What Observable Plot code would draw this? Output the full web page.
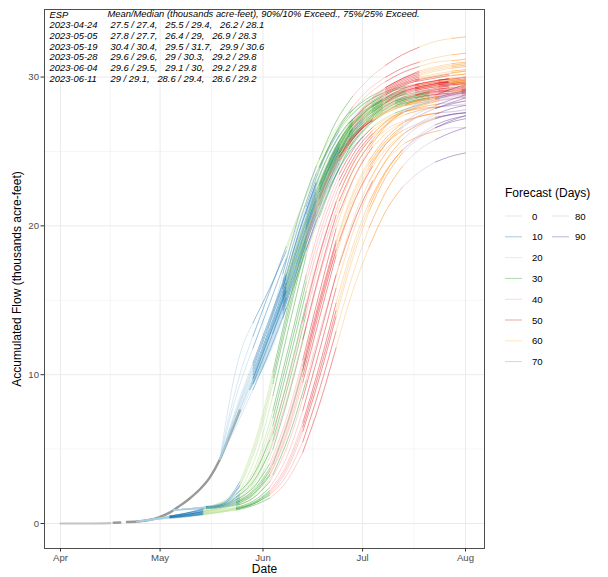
<!DOCTYPE html>
<html><head><meta charset="utf-8">
<script src="https://cdn.jsdelivr.net/npm/d3@7"></script>
<script src="https://cdn.jsdelivr.net/npm/@observablehq/plot@0.6"></script>
<style>
body{margin:0;background:#fff;font-family:"Liberation Sans",Arial,Helvetica,sans-serif;}
#wrap{position:relative;width:608px;height:577px;overflow:hidden;}
#legend{position:absolute;left:0;top:0;pointer-events:none;}
</style></head><body><div id="wrap"></div>
<script>
// ---- text ----
const espLabels = ["ESP","2023-04-24","2023-05-05","2023-05-19","2023-05-28","2023-06-04","2023-06-11"];
const espHeader = "Mean/Median (thousands acre-feet), 90%/10% Exceed., 75%/25% Exceed.";
const espStats = [
  "27.5 / 27.4,   25.5 / 29.4,   26.2 / 28.1",
  "27.8 / 27.7,   26.4 / 29,   26.9 / 28.3",
  "30.4 / 30.4,   29.5 / 31.7,   29.9 / 30.6",
  "29.6 / 29.6,   29 / 30.3,   29.2 / 29.8",
  "29.6 / 29.5,   29.1 / 30,   29.2 / 29.8",
  "29 / 29.1,   28.6 / 29.4,   28.6 / 29.2"
];
const xTickDates = ["2023-04-01","2023-05-01","2023-06-01","2023-07-01","2023-08-01"];
const xMinorDates = ["2023-04-16","2023-05-16T12:00Z","2023-06-16","2023-07-16T12:00Z"];
const yTicks = [0,10,20,30];
const yMinor = [5,15,25];
const forecastDays = [0,10,20,30,40,50,60,70,80,90];
const palette = ["#a6cee3","#1f78b4","#b2df8a","#33a02c","#fb9a99","#e31a1c","#fdbf6f","#ff7f00","#cab2d6","#6a3d9a"];

// ---- observed accumulated flow ----
const obsDates = ["2023-04-01","2023-04-05","2023-04-10","2023-04-16","2023-04-17","2023-04-19","2023-04-21","2023-04-25","2023-04-28","2023-05-01","2023-05-04","2023-05-07","2023-05-10","2023-05-13","2023-05-16","2023-05-19","2023-05-22","2023-05-25"];
const obsFlow  = [0,0,0,0.02,0.05,0.07,0.1,0.15,0.25,0.45,0.75,1.2,1.7,2.3,3.1,4.3,5.9,7.6];
const obsPart  = [1,1,1,1,2,2,3,3,3,3,3,3,3,3,3,3,3,3];

// ---- ESP forecast traces: lead days since issue, accumulated flow per member ----
const issueDates = ["2023-04-24","2023-05-05","2023-05-19","2023-05-28","2023-06-04","2023-06-11"];
const leadsA = [0,5,10,15,20,25,30,35,40,45,50,55,60,65,70,75,80,85,90,95,99];
const traceA = [
  [0.13,0.3,0.5,0.7,0.9,1.2,1.6,2.4,4.0,7.0,11.0,15.5,19.8,23.0,25.2,26.7,27.6,28.3,28.8,29.2,29.5],
  [0.13,0.3,0.45,0.6,0.8,1.0,1.3,1.9,3.2,5.8,9.5,13.8,18.0,21.4,23.8,25.5,26.6,27.4,27.9,28.3,28.6],
  [0.13,0.25,0.4,0.55,0.7,0.9,1.1,1.5,2.4,4.4,7.6,11.6,15.8,19.5,22.4,24.4,25.8,26.7,27.2,27.5,27.6],
  [0.13,0.3,0.5,0.7,1.0,1.4,2.0,3.2,5.6,9.2,13.6,18.0,21.6,24.2,25.9,27.0,27.7,28.2,28.6,28.9,29.1],
  [0.13,0.25,0.4,0.5,0.65,0.8,1.0,1.3,2.0,3.5,6.2,9.8,13.9,17.8,21.0,23.3,24.9,25.9,26.6,27.1,27.4],
  [0.13,0.3,0.45,0.6,0.75,0.95,1.2,1.7,2.8,5.0,8.4,12.5,16.7,20.3,23.0,24.9,26.1,26.9,27.5,27.9,28.1],
  [0.13,0.25,0.35,0.45,0.6,0.75,0.9,1.2,1.7,2.8,4.8,8.0,11.8,15.6,18.6,21.0,22.6,23.6,24.3,24.7,24.9],
  [0.13,0.3,0.5,0.65,0.85,1.1,1.5,2.2,3.7,6.6,10.6,15.0,19.0,22.2,24.4,25.9,26.9,27.6,28.1,28.5,28.8],
  [0.13,0.25,0.4,0.5,0.6,0.75,0.95,1.3,1.9,3.2,5.5,9.0,12.9,16.7,19.9,22.3,24.0,25.1,25.8,26.3,26.6],
  [0.13,0.3,0.45,0.6,0.8,1.0,1.4,2.0,3.3,6.0,9.9,14.3,18.4,21.7,24.0,25.5,26.4,26.9,27.3,27.5,27.6],
  [0.13,0.3,0.45,0.6,0.8,1.05,1.4,2.1,3.5,6.3,10.3,14.7,18.8,22.0,24.2,25.7,26.7,27.4,27.9,28.2,28.4],
  [0.13,0.25,0.4,0.55,0.7,0.85,1.05,1.4,2.2,3.9,6.8,10.6,14.8,18.6,21.6,23.7,25.1,26.0,26.6,27.0,27.2],
  [0.13,0.3,0.5,0.7,0.95,1.3,1.8,2.8,4.8,8.2,12.4,16.8,20.7,23.6,25.5,26.8,27.6,28.1,28.5,28.8,29.0],
  [0.13,0.25,0.4,0.5,0.65,0.8,1.0,1.35,2.1,3.7,6.5,10.2,14.3,18.2,21.3,23.6,25.1,26.1,26.8,27.2,27.4]
];
const leadsB = [0,5,10,15,20,25,30,35,40,45,50,55,60,65,70,75,80,85,88];
const traceB = [
  [0.9,1.0,1.1,1.3,2.2,4.6,8.6,13.4,18.0,21.8,24.4,26.1,27.1,27.8,28.2,28.5,28.7,28.9,29.0],
  [0.9,1.0,1.1,1.2,1.8,3.4,6.6,11.0,15.6,19.6,22.7,24.8,26.2,27.1,27.7,28.1,28.4,28.6,28.7],
  [0.9,1.0,1.05,1.15,1.5,2.6,5.0,8.8,13.2,17.4,20.9,23.5,25.3,26.4,27.0,27.4,27.6,27.7,27.8],
  [0.9,1.0,1.15,1.4,2.8,5.8,10.2,15.0,19.3,22.6,24.9,26.3,27.2,27.8,28.2,28.5,28.7,28.8,28.9],
  [0.9,0.95,1.0,1.1,1.4,2.2,4.0,7.2,11.2,15.4,19.0,21.9,24.0,25.4,26.3,26.9,27.3,27.5,27.6],
  [0.9,1.0,1.1,1.25,2.0,4.0,7.6,12.1,16.7,20.6,23.5,25.4,26.6,27.3,27.7,27.9,28.0,28.1,28.1],
  [0.9,0.95,1.0,1.1,1.3,1.9,3.3,6.0,9.6,13.6,17.4,20.6,23.0,24.6,25.6,26.1,26.4,26.6,26.6],
  [0.9,1.0,1.1,1.3,2.5,5.2,9.4,14.2,18.7,22.2,24.6,26.1,27.1,27.7,28.1,28.4,28.6,28.7,28.8],
  [0.9,0.95,1.05,1.15,1.6,2.9,5.6,9.6,14.1,18.3,21.7,24.1,25.7,26.6,27.1,27.4,27.6,27.7,27.8],
  [0.9,1.0,1.1,1.25,1.9,3.7,7.1,11.6,16.2,20.1,23.1,25.1,26.4,27.2,27.7,28.0,28.2,28.3,28.4],
  [0.9,0.95,1.05,1.2,1.7,3.1,6.0,10.2,14.8,18.9,22.2,24.5,26.0,26.9,27.5,27.8,28.0,28.1,28.2],
  [0.9,1.0,1.1,1.35,2.6,5.5,9.8,14.6,19.0,22.4,24.7,26.2,27.1,27.7,28.1,28.3,28.5,28.6,28.7]
];
const leadsC = [0,5,10,15,20,25,30,35,40,45,50,55,60,65,70,74];
const traceC = [
  [4.3,10.5,13.5,15.8,18.3,21.5,24.5,27.0,28.7,29.9,30.8,31.5,32.0,32.4,32.6,32.7],
  [4.3,8.6,11.8,14.8,17.8,21.0,23.9,26.3,28.0,29.2,30.0,30.6,31.0,31.3,31.5,31.6],
  [4.3,7.8,10.8,13.8,16.8,19.9,22.8,25.3,27.1,28.4,29.3,29.9,30.3,30.6,30.8,30.9],
  [4.3,7.2,10.0,12.9,15.9,19.0,22.0,24.6,26.6,28.0,29.0,29.6,30.0,30.2,30.4,30.5],
  [4.3,6.8,9.4,12.2,15.2,18.4,21.4,24.1,26.2,27.6,28.6,29.2,29.5,29.7,29.8,29.8],
  [4.3,7.5,10.4,13.4,16.5,19.6,22.5,25.0,26.9,28.3,29.2,29.8,30.2,30.5,30.7,30.8],
  [4.3,9.2,12.6,15.6,18.6,21.5,24.0,26.2,27.8,28.9,29.7,30.3,30.7,31.0,31.1,31.2],
  [4.3,6.6,9.0,11.6,14.5,17.6,20.6,23.4,25.6,27.2,28.3,29.0,29.3,29.5,29.6,29.6],
  [4.3,7.4,10.2,13.1,16.2,19.3,22.3,24.9,26.8,28.2,29.1,29.7,30.1,30.4,30.6,30.7],
  [4.3,7.0,9.7,12.6,15.6,18.8,21.8,24.4,26.5,27.9,28.9,29.5,29.9,30.1,30.3,30.4],
  [4.3,7.6,10.6,13.6,16.7,19.8,22.7,25.2,27.0,28.4,29.3,29.9,30.4,30.7,30.9,31.0],
  [4.3,7.1,9.8,12.7,15.7,18.9,21.9,24.5,26.5,27.9,28.8,29.4,29.8,30.0,30.1,30.2]
];
const leadsD = [0,5,10,15,20,25,30,35,40,45,50,55,60,65];
const traceD = [
  [9.0,12.6,16.8,20.8,24.0,26.2,27.6,28.5,29.1,29.5,29.8,30.0,30.2,30.4],
  [9.0,12.0,15.8,19.6,22.9,25.3,26.9,28.0,28.7,29.2,29.5,29.7,29.9,30.0],
  [9.0,11.6,15.0,18.6,21.9,24.5,26.3,27.5,28.3,28.8,29.2,29.5,29.7,29.8],
  [9.0,11.2,14.3,17.7,21.0,23.7,25.7,27.0,27.9,28.5,28.8,29.0,29.1,29.1],
  [9.0,11.9,15.5,19.2,22.5,25.0,26.7,27.8,28.5,29.0,29.3,29.5,29.6,29.7],
  [9.0,10.9,13.8,17.1,20.4,23.1,25.2,26.6,27.6,28.2,28.6,28.8,28.9,29.0],
  [9.0,12.3,16.3,20.2,23.5,25.8,27.3,28.3,28.9,29.4,29.7,29.9,30.1,30.2],
  [9.0,11.4,14.6,18.1,21.4,24.1,26.0,27.3,28.1,28.7,29.1,29.3,29.4,29.5],
  [9.0,11.7,15.2,18.9,22.2,24.8,26.5,27.7,28.4,28.9,29.3,29.5,29.7,29.8],
  [9.0,11.5,14.8,18.4,21.7,24.3,26.2,27.4,28.2,28.8,29.2,29.4,29.6,29.7],
  [9.0,12.1,15.9,19.7,22.9,25.3,26.9,28.0,28.7,29.2,29.5,29.7,29.9,30.0],
  [9.0,11.3,14.4,17.9,21.2,23.9,25.8,27.1,28.0,28.6,29.0,29.2,29.4,29.5],
  [9.0,11.8,15.3,19.0,22.3,24.9,26.6,27.7,28.5,29.0,29.4,29.6,29.7,29.8],
  [9.0,11.1,14.1,17.5,20.8,23.5,25.5,26.9,27.8,28.4,28.8,29.1,29.3,29.4]
];
const leadsE = [0,5,10,15,20,25,30,35,40,45,50,55,58];
const traceE = [
  [12.8,17.4,21.3,24.3,26.4,27.8,28.6,29.1,29.4,29.6,29.8,29.9,30.0],
  [12.8,16.8,20.4,23.4,25.7,27.2,28.2,28.8,29.2,29.5,29.7,29.8,29.9],
  [12.8,16.2,19.6,22.6,25.0,26.7,27.8,28.5,29.0,29.3,29.5,29.6,29.7],
  [12.8,15.7,18.8,21.8,24.2,26.0,27.2,28.0,28.5,28.9,29.1,29.2,29.3],
  [12.8,16.5,20.0,23.0,25.3,27.0,28.0,28.7,29.1,29.4,29.6,29.7,29.8],
  [12.8,15.4,18.4,21.4,23.9,25.7,27.0,27.8,28.4,28.8,29.0,29.1,29.2],
  [12.8,17.0,20.8,23.9,26.1,27.5,28.4,29.0,29.3,29.6,29.8,29.9,30.0],
  [12.8,16.0,19.3,22.3,24.7,26.4,27.6,28.4,28.9,29.2,29.4,29.5,29.6],
  [12.8,16.3,19.8,22.8,25.2,26.9,27.9,28.6,29.0,29.3,29.5,29.6,29.7],
  [12.8,16.6,20.2,23.2,25.5,27.1,28.1,28.7,29.1,29.4,29.6,29.7,29.8],
  [12.8,15.9,19.1,22.1,24.5,26.2,27.4,28.2,28.7,29.0,29.2,29.3,29.4],
  [12.8,16.4,19.9,22.9,25.3,27.0,28.0,28.6,29.0,29.3,29.5,29.6,29.6],
  [12.8,16.1,19.4,22.4,24.8,26.5,27.7,28.4,28.9,29.2,29.4,29.5,29.5]
];
const leadsF = [0,5,10,15,20,25,30,35,40,45,50,51];
const traceF = [
  [17.5,21.9,24.9,26.7,27.7,28.3,28.7,28.9,29.1,29.2,29.3,29.4],
  [17.5,21.3,24.1,26.0,27.2,27.9,28.4,28.7,28.9,29.0,29.1,29.1],
  [17.5,20.7,23.4,25.3,26.6,27.5,28.0,28.4,28.6,28.8,28.9,28.9],
  [17.5,20.2,22.6,24.6,26.0,27.0,27.6,28.0,28.3,28.5,28.6,28.6],
  [17.5,21.6,24.5,26.4,27.5,28.1,28.5,28.8,29.0,29.1,29.2,29.2],
  [17.5,20.9,23.7,25.6,26.9,27.7,28.2,28.5,28.7,28.9,29.0,29.0],
  [17.5,21.1,23.9,25.8,27.0,27.8,28.3,28.6,28.8,28.9,29.0,29.0],
  [17.5,21.4,24.3,26.2,27.4,28.0,28.4,28.7,28.9,29.0,29.1,29.2],
  [17.5,20.8,23.5,25.4,26.7,27.6,28.1,28.4,28.6,28.8,28.9,28.9],
  [17.5,21.2,24.0,25.9,27.1,27.9,28.4,28.7,28.9,29.0,29.1,29.1],
  [17.5,20.5,23.1,25.0,26.4,27.3,27.9,28.3,28.5,28.7,28.8,28.8],
  [17.5,21.0,23.8,25.7,27.0,27.8,28.3,28.6,28.8,28.9,29.0,29.0]
];

// ---- build table: one series per member per 10-day lead band ----
const forecasts = [[leadsA, traceA],[leadsB, traceB],[leadsC, traceC],[leadsD, traceD],[leadsE, traceE],[leadsF, traceF]];
const traceRows = [];
forecastDays.forEach((band, bi) => {
  forecasts.forEach(([leads, members], fi) => {
    const issue = new Date(issueDates[fi]);
    members.forEach((vals, mi) => {
      leads.forEach((lead, j) => {
        const inBand = bi === forecastDays.length - 1 ? lead >= band : (lead >= band && lead <= band + 10);
        if (inBand && j < vals.length) {
          traceRows.push({date: d3.utcDay.offset(issue, lead), value: vals[j], day: band, id: fi + "-" + mi + "-" + band});
        }
      });
    });
  });
});
const obsRows = obsDates.map((d, i) => ({date: new Date(d), value: obsFlow[i], part: obsPart[i]}));

const font = "'Liberation Sans', Arial, Helvetica, sans-serif";
const rowGap = 10.7;
const chart = Plot.plot({
  width: 608, height: 577,
  marginLeft: 44, marginRight: 124, marginTop: 9, marginBottom: 29,
  style: {fontFamily: font, background: "#fff", overflow: "visible"},
  x: {type: "utc", domain: [new Date("2023-03-27T04:20Z"), new Date("2023-08-06T17:20Z")], label: null},
  y: {domain: [-1.68, 34.54], label: null},
  color: {type: "ordinal", domain: forecastDays, range: palette},
  marks: [
    Plot.gridX(xMinorDates.map(d => new Date(d)), {stroke: "#ebebeb", strokeOpacity: 1, strokeWidth: 0.5}),
    Plot.gridY(yMinor, {stroke: "#ebebeb", strokeOpacity: 1, strokeWidth: 0.5}),
    Plot.gridX(xTickDates.map(d => new Date(d)), {stroke: "#ebebeb", strokeOpacity: 1, strokeWidth: 1}),
    Plot.gridY(yTicks, {stroke: "#ebebeb", strokeOpacity: 1, strokeWidth: 1}),
    Plot.line(obsRows.filter(d => d.part === 1), {x: "date", y: "value", stroke: "#c4c4c4", strokeWidth: 2.2, curve: "monotone-x"}),
    Plot.line(obsRows.filter(d => d.part > 1), {x: "date", y: "value", z: "part", stroke: "#8e8e8e", strokeWidth: 2.4, strokeOpacity: 0.9, curve: "monotone-x"}),
    Plot.line(traceRows, {x: "date", y: "value", z: "id", stroke: "day", strokeWidth: 0.7, strokeOpacity: 0.65, curve: "monotone-x"}),
    Plot.text([espLabels.join("\n")], {frameAnchor: "top-left", dx: 5, dy: 0.5, lineAnchor: "top", lineHeight: rowGap / 9.4, fontSize: 9.4, fontStyle: "italic", fill: "#000", textAnchor: "start"}),
    Plot.text([espHeader], {frameAnchor: "top-left", dx: 63, dy: 0.5, lineAnchor: "top", fontSize: 9.4, fontStyle: "italic", fill: "#000", textAnchor: "start"}),
    Plot.text([espStats.map(s => s.replace(/ /g, "\u00a0")).join("\n")], {frameAnchor: "top-left", dx: 66, dy: 0.5 + rowGap, lineAnchor: "top", lineHeight: rowGap / 9.4, fontSize: 9.4, fontStyle: "italic", fill: "#000", textAnchor: "start"}),
    Plot.frame({stroke: "#4d4d4d", strokeWidth: 1}),
    Plot.axisX(xTickDates.map(d => new Date(d)), {tickFormat: d3.utcFormat("%b"), tickSize: 3.5, tickPadding: 2, fontSize: 9.6, fill: "#4d4d4d", stroke: "#333", label: null}),
    Plot.axisY(yTicks, {tickSize: 3.5, tickPadding: 2, fontSize: 9.6, fill: "#4d4d4d", stroke: "#333", label: null}),
    Plot.text(["Date"], {frameAnchor: "bottom", dy: 21, lineAnchor: "middle", textAnchor: "middle", fontSize: 12, fill: "#000"}),
    Plot.text(["Accumulated Flow (thousands acre-feet)"], {frameAnchor: "left", dx: -27, rotate: -90, textAnchor: "middle", lineAnchor: "middle", fontSize: 12, fill: "#000"})
  ]
});
const wrap = document.getElementById("wrap");
wrap.appendChild(chart);

// ---- legend ----
const leg = d3.select(wrap).append("svg").attr("id", "legend").attr("width", 608).attr("height", 577)
  .style("font-family", font);
leg.append("text").attr("x", 505).attr("y", 197).attr("font-size", 12).attr("fill", "#000").text("Forecast (Days)");
forecastDays.forEach((day, i) => {
  const col = i < 8 ? 0 : 1;
  const row = i < 8 ? i : i - 8;
  const y = 216 + row * 20.8;
  const x0 = col === 0 ? 505 : 552;
  leg.append("line").attr("x1", x0).attr("x2", x0 + 17).attr("y1", y).attr("y2", y)
    .attr("stroke", palette[i]).attr("stroke-width", 1).attr("stroke-opacity", 0.4);
  leg.append("text").attr("x", col === 0 ? 532 : 575).attr("y", y + 3.5).attr("font-size", 9.6).attr("fill", "#000").text(String(day));
});
</script></body></html>
